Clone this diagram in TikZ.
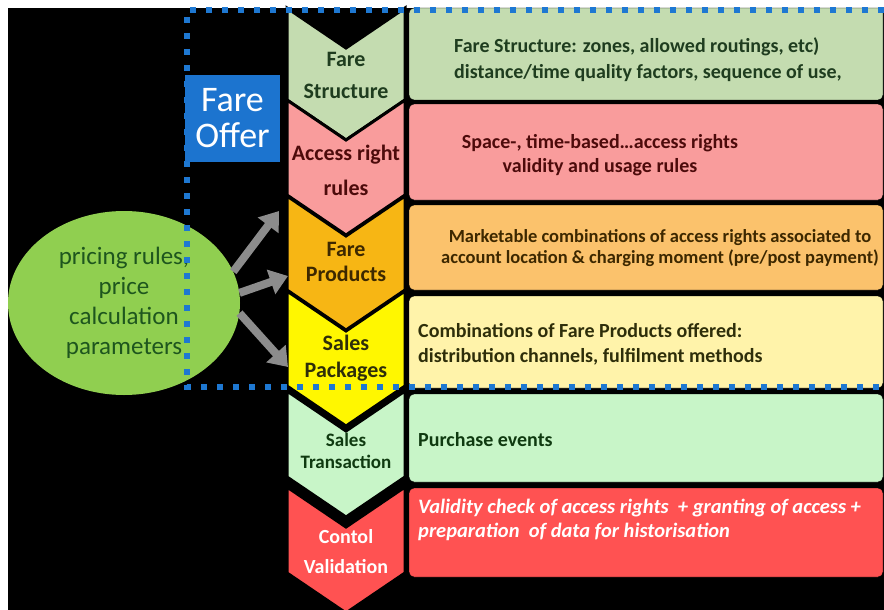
\documentclass[tikz,border=0pt]{standalone}
\usepackage{fontspec}
\setmainfont{Carlito}
\usetikzlibrary{positioning}
\usetikzlibrary{arrows.meta}
\usetikzlibrary{shapes.geometric}
\definecolor{fsgreen}{HTML}{C4DCB0}
\definecolor{arpink}{HTML}{F99C9C}
\definecolor{fpgold}{HTML}{F7B614}
\definecolor{fplight}{HTML}{FBC26C}
\definecolor{spyellow}{HTML}{FFF700}
\definecolor{splight}{HTML}{FFF3AA}
\definecolor{stgreen}{HTML}{C8F5C8}
\definecolor{cvred}{HTML}{FF5252}
\definecolor{offerblue}{HTML}{1C74CF}
\definecolor{dotblue}{HTML}{1E78D2}
\definecolor{pricegreen}{HTML}{90CF50}
\definecolor{feedgray}{HTML}{8C8C8C}
\definecolor{fstext}{HTML}{1F3D1F}
\definecolor{artext}{HTML}{4D0B0B}
\definecolor{fptext}{HTML}{3D2800}
\definecolor{sptext}{HTML}{2E2E0A}
\definecolor{sttext}{HTML}{0F3A10}
\definecolor{pricetext}{HTML}{1E561E}
\tikzset{
 stagelabel/.style={
 align=center,
 inner sep=0pt,
 font=\bfseries\fontsize{22}{32}\selectfont},
 detailbox/.style={
 rectangle,
 rounded corners=5pt,
 draw=black, thin,
 minimum width=474pt},
 detailtext/.style={
 inner sep=0pt,
 font=\bfseries\fontsize{20}{26}\selectfont},
 offerbox/.style={
 rectangle,
 fill=offerblue,
 text=white,
 minimum width=95pt,
 minimum height=87pt,
 align=center,
 font=\fontsize{36}{36}\selectfont},
 feed/.style={
 feedgray,
 line width=8pt,
 -{Triangle[width=25pt,length=18pt]}}
}
\newcommand{\chevronshape}[3]{%
 \filldraw[fill=#3, draw=black, line width=3pt] (287,#1) -- (346,#1+40) -- (405,#1)
 -- (405,#2) -- (346,#2+40) -- (287,#2) -- cycle;}

\begin{document}
\begin{tikzpicture}[x=1pt,y=-1pt]
 \useasboundingbox (0,0) rectangle (884,610);
 \fill[white] (0,0) rectangle (884,610);
 \fill[black] (8,8) rectangle (884,610);

 \node[detailbox, fill=fsgreen, minimum height=92pt] (fsbox) at (646,54) {};
 \node[detailbox, fill=arpink, minimum height=96pt] (arbox) at (646,152) {};
 \node[detailbox, fill=fplight, minimum height=85pt] (fpbox) at (646,247.5) {};
 \node[detailbox, fill=splight, minimum height=92pt] (spbox) at (646,342) {};
 \node[detailbox, fill=stgreen, minimum height=88pt] (stbox) at (646,438) {};
 \node[detailbox, fill=cvred, minimum height=89pt] (cvbox) at (646,532.5) {};

 \chevronshape{8}{100}{fsgreen}
 \chevronshape{100}{195}{arpink}
 \chevronshape{196}{290}{fpgold}
 \chevronshape{291}{386}{spyellow}
 \chevronshape{391}{477}{stgreen}
 \chevronshape{487}{573}{cvred}

 \node[stagelabel, text=fstext] (fs) at (346,75) {Fare\\Structure};
 \node[stagelabel, text=artext, font=\bfseries\fontsize{22}{35}\selectfont] (ar) at (346,170) {Access right\\rules};
 \node[stagelabel, text=fptext, font=\bfseries\fontsize{22}{25}\selectfont] (fp) at (346,262) {Fare\\Products};
 \node[stagelabel, text=sptext, font=\bfseries\fontsize{22}{27}\selectfont] (sp) at (346,358) {Sales\\Packages};
 \node[stagelabel, text=sttext, font=\bfseries\fontsize{19}{22}\selectfont] (st) at (346,451) {Sales\\Transaction};
 \node[stagelabel, text=white, font=\bfseries\fontsize{20}{30}\selectfont] (cv) at (346,552) {Contol\\Validation};

 \node[detailtext, text=fstext, anchor=west, align=left] (fsdesc) at (454,60) {Fare Structure: zones, allowed routings, etc)\\distance/time quality factors, sequence of use,};
 \node[detailtext, text=artext, align=center, font=\bfseries\fontsize{20}{24}\selectfont] (ardesc) at (600,155) {Space-, time-based…access rights\\validity and usage rules};
 \node[detailtext, text=fptext, align=center, font=\bfseries\fontsize{18.5}{21}\selectfont] (fpdesc) at (660,248) {Marketable combinations of access rights associated to\\account location \& charging moment (pre/post payment)};
 \node[detailtext, text=sptext, anchor=west, align=left, font=\bfseries\fontsize{20}{25}\selectfont] (spdesc) at (418,344) {Combinations of Fare Products offered:\\distribution channels, fulfilment methods};
 \node[detailtext, text=sttext, anchor=west] (stdesc) at (418,440) {Purchase events};
 \node[detailtext, text=white, anchor=west, align=left, font=\bfseries\itshape\fontsize{20.5}{24}\selectfont] (cvdesc) at (418,520) {Validity check of access rights \ + granting of access +\\preparation \ of data for historisation};

 \node[ellipse, fill=pricegreen, minimum width=232pt, minimum height=184pt, inner sep=0pt,
 align=center, text=pricetext, font=\fontsize{25}{30}\selectfont] (pricing) at (124,303) {pricing rules,\\price\\calculation\\parameters};

 \draw[dotblue, line width=6pt, dash pattern=on 6pt off 10pt] (884,10) -- (187,10) -- (187,387) -- (884,387);

 \node[offerbox] (offer) at (232.5,118.5) {Fare\\Offer};

 \coordinate (tipar) at (279,211);
 \coordinate (tipfp) at (288,276);
 \coordinate (tipsp) at (288,367);
 \draw[feed] (pricing.16) -- (tipar);
 \draw[feed] (pricing.5) -- (tipfp);
 \draw[feed] (pricing.-5) -- (tipsp);
\end{tikzpicture}
\end{document}
